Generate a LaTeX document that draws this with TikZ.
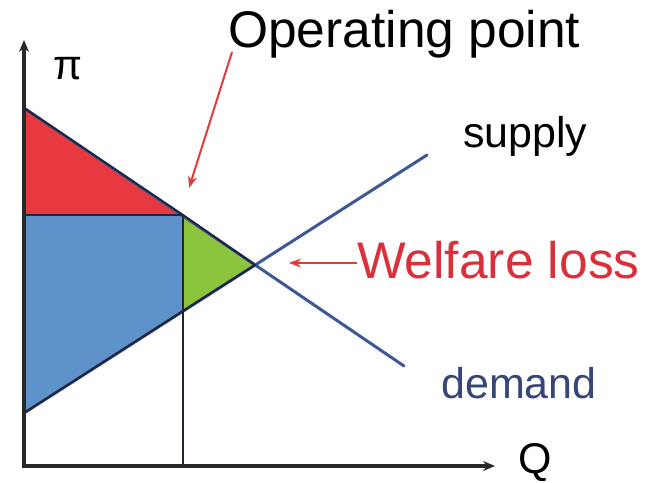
\documentclass[tikz,border=0pt]{standalone}
\usepackage{fontspec}
\setmainfont{Liberation Sans}
\usetikzlibrary{arrows.meta}
\definecolor{surplusred}{RGB}{232,56,64}
\definecolor{surplusblue}{RGB}{94,146,202}
\definecolor{lossgreen}{RGB}{140,196,62}
\definecolor{curveblue}{RGB}{62,88,150}
\definecolor{edgedark}{RGB}{30,38,60}
\definecolor{axisgray}{RGB}{40,40,40}
\definecolor{pointerred}{RGB}{225,60,60}
\definecolor{labelred}{RGB}{218,48,60}
\definecolor{demandtext}{RGB}{55,70,120}
\tikzset{
  axisline/.style={draw=axisgray, line width=4pt, line cap=rect,
    -{Stealth[length=12pt,width=10pt]}},
  curve/.style={draw=curveblue, line width=3pt, line cap=round},
  edge/.style={draw=edgedark, line width=2pt},
  pointer/.style={draw=pointerred, line width=2pt,
    -{Stealth[length=12pt,width=9pt]}},
  bigtext/.style={inner sep=0pt, anchor=base west, font=\fontsize{51.5}{51.5}\selectfont},
  midtext/.style={inner sep=0pt, anchor=base west, font=\fontsize{43}{43}\selectfont},
}
\begin{document}
\begin{tikzpicture}[x=1pt, y=-1pt]
\useasboundingbox (0,0) rectangle (647,482);
% key points of the market diagram
\coordinate (O)   at (24,466);
\coordinate (D0)  at (24,108);
\coordinate (P)   at (24,215);
\coordinate (OP)  at (183,215);
\coordinate (E)   at (255,265);
\coordinate (D1)  at (404,366);
\coordinate (S0)  at (24,413);
\coordinate (OPs) at (183,311);
\coordinate (S1)  at (427,155);
\coordinate (Qb)  at (183,466);
\coordinate (Ytip) at (24,40);
\coordinate (Xtip) at (495,466);
% surplus and loss areas
\fill[surplusred]  (D0) -- (OP) -- (P) -- cycle;
\fill[surplusblue] (P) -- (OP) -- (OPs) -- (S0) -- cycle;
\fill[lossgreen]   (OP) -- (E) -- (OPs) -- cycle;
% supply and demand curves
\draw[curve] (D0) -- (D1);
\draw[curve] (S0) -- (S1);
\draw[edge] (D0) -- (OP) -- (E) -- (OPs) -- (S0);
\draw[edge] (P) -- (OP);
\draw[draw=edgedark, line width=1.5pt] (OP) -- (Qb);
% axes
\draw[axisline] (O) -- (Ytip);
\draw[axisline] (O) -- (Xtip);
% labels
\node (pi) at (68,69) {\fontsize{42}{42}\selectfont π};
\node[midtext] (Q) at (518,473) {Q};
\node[bigtext] (oplabel) at (228,47) {Operating point};
\node[midtext] (supply) at (463,147) {supply};
\node[midtext, text=demandtext] (demand) at (441,398) {demand};
\node[bigtext, text=labelred] (loss) at (357,278) {Welfare loss};
% pointers
\coordinate (oparrow) at (232,52);
\coordinate (optip) at (189,188);
\draw[pointer] (oparrow) -- (optip);
\coordinate (losstail) at (357,263);
\coordinate (losstip) at (289,263);
\draw[pointer] (losstail) -- (losstip);
\end{tikzpicture}
\end{document}
